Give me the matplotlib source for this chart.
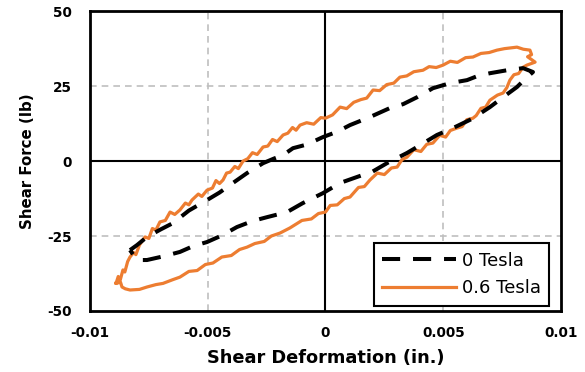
import matplotlib
matplotlib.use("Agg")
import matplotlib.pyplot as plt

plt.rcParams['font.family'] = ['DejaVu Sans']

# 0.6 Tesla loop: upper branch left->right, then lower branch right->left
x_06 = [-0.00889, -0.00880, -0.00872, -0.00860, -0.00852, -0.00840, -0.00830, -0.00815,
        -0.00805, -0.00790, -0.00766, -0.00750, -0.00735, -0.00720, -0.00703, -0.00680,
        -0.00660, -0.00640, -0.00618, -0.00595, -0.00580, -0.00567, -0.00540, -0.00525,
        -0.00503, -0.00480, -0.00465, -0.00450, -0.00435, -0.00420, -0.00405, -0.00385,
        -0.00370, -0.00350, -0.00330, -0.00310, -0.00290, -0.00265, -0.00245, -0.00225,
        -0.00205, -0.00180, -0.00160, -0.00140, -0.00125, -0.00108, -0.00080, -0.00050,
        -0.00020, 0.0, 0.00030, 0.00062, 0.00090, 0.00120, 0.00150, 0.00175,
        0.00202, 0.00230, 0.00260, 0.00290, 0.00316, 0.00345, 0.00375, 0.00414,
        0.00440, 0.00470, 0.00499, 0.00530, 0.00560, 0.00595, 0.00626, 0.00660,
        0.00695, 0.00728, 0.00760, 0.00790, 0.00813, 0.00840, 0.00868, 0.00875,
        0.00858, 0.00890,
        0.00855, 0.00839, 0.00820, 0.00800, 0.00783, 0.00770, 0.00754, 0.00730,
        0.00698, 0.00680, 0.00660, 0.00640, 0.00626, 0.00600, 0.00580, 0.00558,
        0.00530, 0.00510, 0.00485, 0.00456, 0.00430, 0.00405, 0.00375, 0.00346,
        0.00325, 0.00304, 0.00280, 0.00250, 0.00220, 0.00189, 0.00165, 0.00140,
        0.00104, 0.00080, 0.00050, 0.00020, 0.0, -0.00030, -0.00060, -0.00100,
        -0.00151, -0.00193, -0.00230, -0.00260, -0.00300, -0.00333, -0.00365, -0.00400,
        -0.00440, -0.00478, -0.00510, -0.00545, -0.00580, -0.00618, -0.00650, -0.00690,
        -0.00720, -0.00758, -0.00790, -0.00830, -0.00850, -0.00864, -0.00870, -0.00889]
y_06 = [-40.7, -38.5, -39.8, -36.3, -37.0, -33.5, -32.0, -30.5,
        -31.2, -28.0, -25.3, -25.8, -22.5, -23.0, -20.3, -19.8,
        -17.0, -17.8, -16.3, -14.0, -14.6, -13.0, -11.0, -11.8,
        -9.7, -9.0, -6.5, -7.5, -6.3, -4.0, -3.7, -1.8,
        -2.5, 0.0, 0.8, 2.8, 2.2, 4.7, 5.0, 7.2,
        6.5, 8.7, 9.3, 11.2, 10.3, 12.0, 12.8, 12.3,
        14.5, 14.3, 15.4, 18.0, 17.5, 19.6, 20.5, 21.0,
        23.7, 23.5, 25.5, 26.0, 28.0, 28.4, 29.8, 30.3,
        31.5, 31.2, 32.0, 33.3, 32.9, 34.5, 34.7, 35.9,
        36.2, 37.0, 37.5, 37.8, 38.0, 37.3, 37.0, 35.5,
        34.8, 33.0,
        32.0, 31.3, 29.2, 28.8, 27.0, 24.5, 22.7, 22.0,
        20.3, 18.0, 17.6, 15.2, 14.3, 13.8, 11.5, 11.0,
        10.2, 8.0, 8.6, 6.0, 5.6, 3.2, 3.8, 1.3,
        0.5, -2.0, -2.3, -4.5, -4.0, -6.3, -8.5, -8.8,
        -12.0, -12.5, -14.6, -14.8, -17.0, -17.5, -19.3, -19.8,
        -22.3, -24.0, -25.0, -26.8, -27.5, -28.7, -29.5, -31.5,
        -32.0, -34.0, -34.5, -36.5, -36.8, -38.7, -39.6, -40.8,
        -41.2, -42.0, -42.8, -43.0, -42.6, -42.0, -40.5, -40.7]

# 0 Tesla loop
x_0 = [-0.00830, -0.00800, -0.00758, -0.00700, -0.00648, -0.00580, -0.00503, -0.00450,
       -0.00393, -0.00333, -0.00265, -0.00220, -0.00180, -0.00138, -0.00080, -0.00011,
       0.00050, 0.00104, 0.00189, 0.00274, 0.00330, 0.00389, 0.00456, 0.00529, 0.00601,
       0.00650, 0.00698, 0.00771, 0.00839, 0.00881,
       0.00856, 0.00813, 0.00754, 0.00698, 0.00620, 0.00541, 0.00473, 0.00389, 0.00346,
       0.00261, 0.00200, 0.00134, 0.00062, -0.00011, -0.00096, -0.00163, -0.00248,
       -0.00310, -0.00376, -0.00440, -0.00503, -0.00560, -0.00618, -0.00690, -0.00758,
       -0.00800, -0.00830]
y_0 = [-29.7, -28.0, -25.3, -22.8, -20.7, -16.5, -13.0, -10.5,
       -7.3, -4.0, -0.7, 0.8, 2.0, 4.3, 5.5, 8.0,
       9.8, 12.0, 14.7, 17.7, 19.0, 21.3, 24.3, 26.0, 27.0,
       28.5, 29.3, 30.3, 31.0, 29.7,
       28.0, 24.7, 21.3, 18.0, 14.0, 11.0, 8.7, 4.7, 2.7,
       -0.7, -3.5, -5.3, -7.3, -10.7, -14.0, -17.0, -18.7,
       -20.0, -22.0, -24.8, -27.0, -28.3, -30.3, -31.8, -33.0,
       -33.0, -29.7]

x_ticks = [-0.01, -0.005, 0, 0.005, 0.01]
x_ticklabels = ["-0.01", "-0.005", "0", "0.005", "0.01"]
y_ticks = [-50, -25, 0, 25, 50]
y_ticklabels = ["-50", "-25", "0", "25", "50"]
grid_x = [-0.005, 0.005]
grid_y = [-25, 25]

fig = plt.figure(figsize=(5.85, 3.72), dpi=100)
ax = fig.add_axes([0.1538, 0.164, 0.8052, 0.806])

for gx in grid_x:
    ax.axvline(gx, color="#bfbfbf", lw=1.2, linestyle=(0, (4, 3)), zorder=0)
for gy in grid_y:
    ax.axhline(gy, color="#bfbfbf", lw=1.2, linestyle=(0, (4, 3)), zorder=0)
ax.axhline(0, color="black", lw=1.5, zorder=1)
ax.axvline(0, color="black", lw=1.5, zorder=1)

ax.plot(x_0, y_0, color="black", lw=2.9, linestyle=(0, (4.5, 3.2)), label="0 Tesla", zorder=3)
ax.plot(x_06, y_06, color="#ED7D31", lw=2.3, label="0.6 Tesla", zorder=2)

ax.set_xlim(-0.01, 0.01)
ax.set_ylim(-50, 50)
ax.set_xticks(x_ticks)
ax.set_xticklabels(x_ticklabels)
ax.set_yticks(y_ticks)
ax.set_yticklabels(y_ticklabels)
ax.tick_params(axis="x", length=0, pad=11, labelsize=9.8)
ax.tick_params(axis="y", length=0, pad=13, labelsize=9.8)
for lab in ax.get_xticklabels() + ax.get_yticklabels():
    lab.set_fontweight("bold")

for s in ax.spines.values():
    s.set_linewidth(2)

ax.set_xlabel("Shear Deformation (in.)", fontsize=12.8, fontweight="bold", labelpad=6)
ax.set_ylabel("Shear Force (lb)", fontsize=10.8, fontweight="bold", labelpad=9)

leg = ax.legend(loc="lower right", fontsize=13, frameon=True, fancybox=False,
                edgecolor="black", handlelength=4.1, handletextpad=0.3,
                borderpad=0.45, labelspacing=0.55, framealpha=1,
                bbox_to_anchor=(0.9935, -0.012))
leg.get_frame().set_linewidth(1.5)

fig.savefig("out.png", dpi=100)
